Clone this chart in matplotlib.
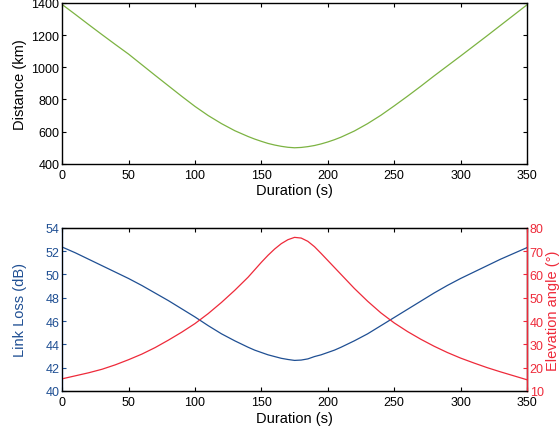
import numpy as np
import matplotlib
matplotlib.use("Agg")
from matplotlib import pyplot as plt
from matplotlib.ticker import MultipleLocator

plt.rcParams['font.family'] = ['Liberation Sans', 'DejaVu Sans']

# pass time samples (s)
duration = [0, 10, 20, 30, 40, 50, 60, 70, 80, 90, 100, 110, 120, 130, 140, 145, 150, 155,
            160, 165, 170, 175, 180, 185, 190, 195, 200, 205, 210, 220, 230, 240, 250, 260,
            270, 280, 290, 300, 310, 320, 330, 340, 350]

# slant range to the satellite (km)
distance = [1390, 1328, 1265, 1203, 1142, 1082, 1016, 950, 885, 820, 757, 700, 650, 606,
            570, 554, 540, 527, 517, 509, 503, 500, 502, 507, 514, 524, 536, 550, 566, 604,
            650, 702, 760, 820, 882, 946, 1008, 1070, 1133, 1196, 1260, 1324, 1388]

# link loss (dB)
link_loss = [52.35, 51.85, 51.3, 50.75, 50.2, 49.65, 49.05, 48.4, 47.75, 47.05, 46.35, 45.6,
             44.9, 44.3, 43.75, 43.5, 43.3, 43.1, 42.95, 42.8, 42.7, 42.62, 42.65, 42.75,
             42.95, 43.1, 43.3, 43.5, 43.75, 44.3, 44.9, 45.6, 46.3, 47.0, 47.7, 48.4, 49.05,
             49.65, 50.2, 50.75, 51.3, 51.8, 52.3]

# elevation angle (deg)
elevation = [15.2, 16.5, 17.8, 19.3, 21.2, 23.4, 25.8, 28.6, 31.8, 35.2, 38.9, 43.2, 48.0,
             53.2, 58.8, 62.0, 65.2, 68.2, 70.9, 73.2, 74.9, 75.9, 75.6, 74.2, 71.9, 69.0,
             66.0, 63.0, 60.0, 54.0, 48.5, 43.5, 39.2, 35.5, 32.2, 29.2, 26.5, 24.1, 22.0,
             20.0, 18.2, 16.5, 14.8]

GREEN = '#7cb342'
BLUE = '#1f4f93'
RED = '#ee2a3a'
TICK_FS = 9
LABEL_FS = 10.5

fig = plt.figure(figsize=(5.6, 4.35), dpi=100)
ax1 = fig.add_axes([0.111, 0.621, 0.830, 0.370])
ax2 = fig.add_axes([0.111, 0.099, 0.830, 0.375])


def matlab_box(ax):
    ax.tick_params(direction='in', length=3, width=0.8, labelsize=TICK_FS, pad=2,
                   top=True, right=True)
    ax.tick_params(axis='x', pad=4)
    for sp in ax.spines.values():
        sp.set_linewidth(1.0)
    ax.xaxis.set_major_locator(MultipleLocator(50))
    ax.set_xlim(0, 350)


# distance over the pass
ax1.plot(duration, distance, color=GREEN, lw=0.9)
matlab_box(ax1)
ax1.set_ylim(400, 1400)
ax1.yaxis.set_major_locator(MultipleLocator(200))
ax1.set_xlabel('Duration (s)', fontsize=LABEL_FS)
ax1.set_ylabel('Distance (km)', fontsize=LABEL_FS)
ax1.xaxis.set_label_coords(0.5, -0.118)
ax1.yaxis.set_label_coords(-0.0755, 0.5)

# link loss and elevation angle on twin axes
ax2.plot(duration, link_loss, color=BLUE, lw=0.9)
matlab_box(ax2)
ax2.tick_params(right=False)
ax2.set_ylim(40, 54)
ax2.yaxis.set_major_locator(MultipleLocator(2))
ax2.set_xlabel('Duration (s)', fontsize=LABEL_FS)
ax2.set_ylabel('Link Loss (dB)', fontsize=LABEL_FS, color=BLUE)
ax2.xaxis.set_label_coords(0.5, -0.123)
ax2.yaxis.set_label_coords(-0.0755, 0.5)
ax2.tick_params(axis='y', colors=BLUE)
ax2.spines['left'].set_color(BLUE)

ax3 = ax2.twinx()
ax3.plot(duration, elevation, color=RED, lw=0.9)
ax3.set_xlim(0, 350)
ax3.set_ylim(10, 80)
ax3.yaxis.set_major_locator(MultipleLocator(10))
ax3.tick_params(direction='in', length=3, width=0.8, labelsize=TICK_FS, pad=2, colors=RED)
ax3.spines['right'].set_color(RED)
ax3.spines['right'].set_linewidth(1.0)
ax3.set_ylabel('Elevation angle (°)', fontsize=LABEL_FS, color=RED)
ax3.yaxis.set_label_coords(1.042, 0.5)

fig.savefig('out.png', dpi=100)
